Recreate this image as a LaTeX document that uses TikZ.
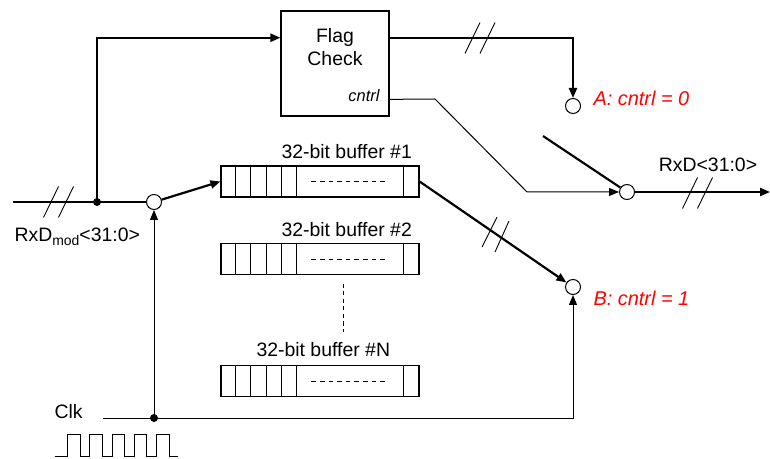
\documentclass[tikz,border=0pt]{standalone}
\usepackage{fontspec}
\setmainfont{Liberation Sans}
\usetikzlibrary{arrows.meta,calc}
\begin{document}
\begin{tikzpicture}[x=1bp,y=-1bp,
  every node/.style={font=\fontsize{19.5}{23}\selectfont},
  thickline/.style={line width=2.2bp},
  thinline/.style={line width=1bp},
  tip/.style={-{Triangle[length=10bp,width=8bp]}},
  port/.style={circle,draw,line width=1bp,fill=white,minimum size=15bp,inner sep=0pt},
  joint/.style={circle,fill=black,minimum size=8bp,inner sep=0pt},
  block/.style={draw,line width=1.1bp,inner sep=0pt},
  redlabel/.style={text=red,font=\fontsize{20}{24}\selectfont\itshape,anchor=west},
  busmark/.pic={\draw[line width=0.9bp] (-15,15.5) -- (0,-15.5) (0,15.5) -- (15,-15.5);}
]
\useasboundingbox (0,0) rectangle (770,459);

% flag check block
\node[block,minimum width=108bp,minimum height=105bp] (flag) at (335,63.5) {};
\node[align=center] (flagtxt) at (335,47) {Flag\\Check};
\node[font=\fontsize{16.5}{20}\selectfont\itshape,anchor=east] (ctl) at (383,96) {cntrl};

% 32-bit buffers
\foreach \n/\y in {1/181.5,2/259,N/381} {
  \node[block,minimum width=198bp,minimum height=31bp] (buf\n) at (320,\y) {};
  \foreach \dx in {15,30,46,61,76,183}
    \draw[line width=1.1bp] ($(buf\n.north west)+(\dx,0)$) -- ($(buf\n.south west)+(\dx,0)$);
  \draw[thinline,dash pattern=on 4.6bp off 4bp] ($(buf\n.west)+(91,0.5)$) -- ++(76,0);
}
\node[anchor=west] (lab1) at (278,152) {32-bit buffer \#1};
\node[anchor=west] (lab2) at (278,230) {32-bit buffer \#2};
\node[anchor=west] (labN) at (253,350) {32-bit buffer \#N};
\draw[thinline,dash pattern=on 4bp off 3.5bp] (343,284) -- (343,332);

% switch ports and junctions
\node[port] (cin) at (154,202) {};
\node[port] (ca) at (573,106) {};
\node[port] (cb) at (573,287) {};
\node[port] (cout) at (627,192) {};
\node[joint] (jin) at (97,202) {};
\node[joint] (jclk) at (154,418) {};

\coordinate (inL) at (13,202);
\coordinate (outR) at (770,192);
\coordinate (clkL) at (103,418);
\coordinate (levtop) at (543,136);
\coordinate (cbend1) at (435,99);
\coordinate (cbend2) at (527,192);

% data paths
\draw[thickline] (inL) -- (cin);
\draw[thickline,tip] (jin.center) |- ($(flag.north west)!0.257!(flag.south west)$);
\draw[thickline,tip] ($(flag.north east)!0.257!(flag.south east)$) -| (ca);
\draw[thickline,tip] (cin) -- (buf1.west);
\draw[thickline,tip] (buf1.east) -- (cb);
\draw[thickline] (levtop) -- (cout);
\draw[thickline,tip] (cout) -- (outR);

% control and clock
\draw[thinline,tip] ($(flag.north east)!0.838!(flag.south east)$) -- (cbend1) -- (cbend2) -- (cout);
\draw[thinline,tip] (clkL) -| (cb);
\draw[thinline,tip] (jclk.center) -- (cin);

% bus width marks
\pic at (58.5,202) {busmark};
\pic at (480,38) {busmark};
\pic at (697.5,193) {busmark};
\draw[line width=0.9bp] (482,247) -- (497,217) (495,252) -- (509,221);

% labels
\node[anchor=west] (inlab) at (11,237) {RxD\raisebox{-4bp}{\fontsize{14}{14}\selectfont mod}<31:0>};
\node (outlab) at (708,165) {RxD<31:0>};
\node[redlabel] (alab) at (590,98) {A: cntrl = 0};
\node[redlabel] (blab) at (590,298) {B: cntrl = 1};
\node[anchor=west] (clklab) at (51,412) {Clk};

% clock waveform
\draw[thinline] (55,456) \foreach \k in {0,...,4} {
  -- ({67.5+22.3*\k},456) -- ({67.5+22.3*\k},434) -- ({80+22.3*\k},434) -- ({80+22.3*\k},456) } -- (178,456);
\end{tikzpicture}
\end{document}
